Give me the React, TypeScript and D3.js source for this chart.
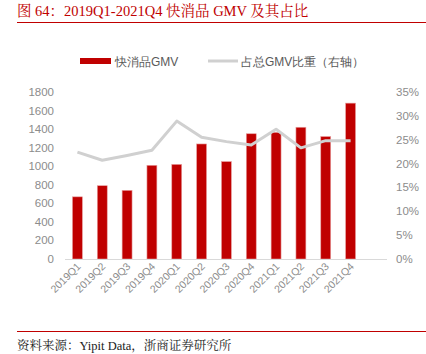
import React, { useEffect, useRef } from "react";
import * as d3 from "d3";

const quarters = ["2019Q1", "2019Q2", "2019Q3", "2019Q4", "2020Q1", "2020Q2", "2020Q3", "2020Q4", "2021Q1", "2021Q2", "2021Q3", "2021Q4"];
const gmv = [670, 790, 740, 1010, 1020, 1240, 1050, 1350, 1365, 1420, 1320, 1680];
const share = [22.4, 20.7, 21.7, 22.8, 28.9, 25.5, 24.6, 23.9, 27.2, 23.3, 24.8, 24.8];
const leftTicks = [0, 200, 400, 600, 800, 1000, 1200, 1400, 1600, 1800];
const rightTicks = [0, 5, 10, 15, 20, 25, 30, 35];

const App = () => {
    const ref = useRef<SVGSVGElement>(null);

    useEffect(() => {
        const svg = d3.select(ref.current);
        svg.selectAll("*").remove();

        const W = 426;
        const top = 92, bottom = 259;
        const left = 65, right = 363, axisEnd = 387;
        const sans = "'Liberation Sans', Arial, sans-serif";
        const serif = "'Liberation Serif', 'Noto Serif CJK SC', serif";
        const red = "#c00000";

        // title
        svg.append("text")
            .attr("x", 17).attr("y", 16)
            .attr("fill", red)
            .style("font-family", serif)
            .style("font-size", "14.5px")
            .text("图 64：2019Q1-2021Q4 快消品 GMV 及其占比");
        svg.append("line").attr("x1", 17).attr("x2", W).attr("y1", 22.5).attr("y2", 22.5)
            .attr("stroke", red).attr("stroke-width", 1);

        const x = d3.scaleBand().domain(quarters).range([left, right]).paddingInner(0.6).paddingOuter(0.3);
        const y = d3.scaleLinear().domain([0, 1800]).range([bottom, top]);
        const y2 = d3.scaleLinear().domain([0, 35]).range([bottom, top]);

        // left axis labels
        svg.append("g").selectAll("text").data(leftTicks).enter().append("text")
            .attr("x", 54).attr("y", (d) => y(d) + 4)
            .attr("text-anchor", "end")
            .attr("fill", "#8c8c8c")
            .style("font-family", sans).style("font-size", "11.5px")
            .text((d) => d);

        // right axis labels
        svg.append("g").selectAll("text").data(rightTicks).enter().append("text")
            .attr("x", 396).attr("y", (d) => y2(d) + 4)
            .attr("fill", "#8c8c8c")
            .style("font-family", sans).style("font-size", "11.5px")
            .text((d) => d + "%");

        // bars
        svg.append("g").selectAll("rect").data(gmv).enter().append("rect")
            .attr("x", (d, i) => x(quarters[i])!)
            .attr("y", (d) => y(d))
            .attr("width", x.bandwidth())
            .attr("height", (d) => bottom - y(d))
            .attr("fill", red)
            .attr("stroke", "#e8a0a0").attr("stroke-width", 0.6);

        // baseline
        svg.append("line").attr("x1", left).attr("x2", axisEnd).attr("y1", bottom + 0.5).attr("y2", bottom + 0.5)
            .attr("stroke", "#d9d9d9").attr("stroke-width", 1.2);

        // share line
        const line = d3.line<number>()
            .x((d, i) => x(quarters[i])! + x.bandwidth() / 2)
            .y((d) => y2(d));
        svg.append("path").datum(share)
            .attr("d", line)
            .attr("fill", "none")
            .attr("stroke", "#d0d0d0")
            .attr("stroke-width", 3)
            .attr("stroke-linejoin", "round");

        // x labels
        svg.append("g").selectAll("text").data(quarters).enter().append("text")
            .attr("transform", (d) => `translate(${x(d)! + x.bandwidth() / 2 + 4},${bottom + 8}) rotate(-45)`)
            .attr("text-anchor", "end")
            .attr("fill", "#8c8c8c")
            .style("font-family", sans).style("font-size", "10.5px")
            .text((d) => d);

        // legend
        svg.append("rect").attr("x", 80).attr("y", 58).attr("width", 31).attr("height", 6).attr("fill", red);
        svg.append("text").attr("x", 115).attr("y", 65.5)
            .attr("fill", "#595959").style("font-family", sans).style("font-size", "12px")
            .text("快消品GMV");
        svg.append("line").attr("x1", 208).attr("x2", 238).attr("y1", 61).attr("y2", 61)
            .attr("stroke", "#d0d0d0").attr("stroke-width", 3);
        svg.append("text").attr("x", 241).attr("y", 65.5)
            .attr("fill", "#595959").style("font-family", sans).style("font-size", "12px")
            .text("占总GMV比重（右轴）");

        // footer
        svg.append("line").attr("x1", 17).attr("x2", W).attr("y1", 331.5).attr("y2", 331.5)
            .attr("stroke", red).attr("stroke-width", 1);
        svg.append("text").attr("x", 17).attr("y", 350)
            .attr("fill", "#222")
            .style("font-family", serif).style("font-size", "12.5px")
            .text("资料来源：Yipit Data，浙商证券研究所");
    }, []);

    return <svg ref={ref} width={426} height={354} style={{ position: "absolute", left: 0, top: 0, background: "#fff" }} />;
};

export default App;
